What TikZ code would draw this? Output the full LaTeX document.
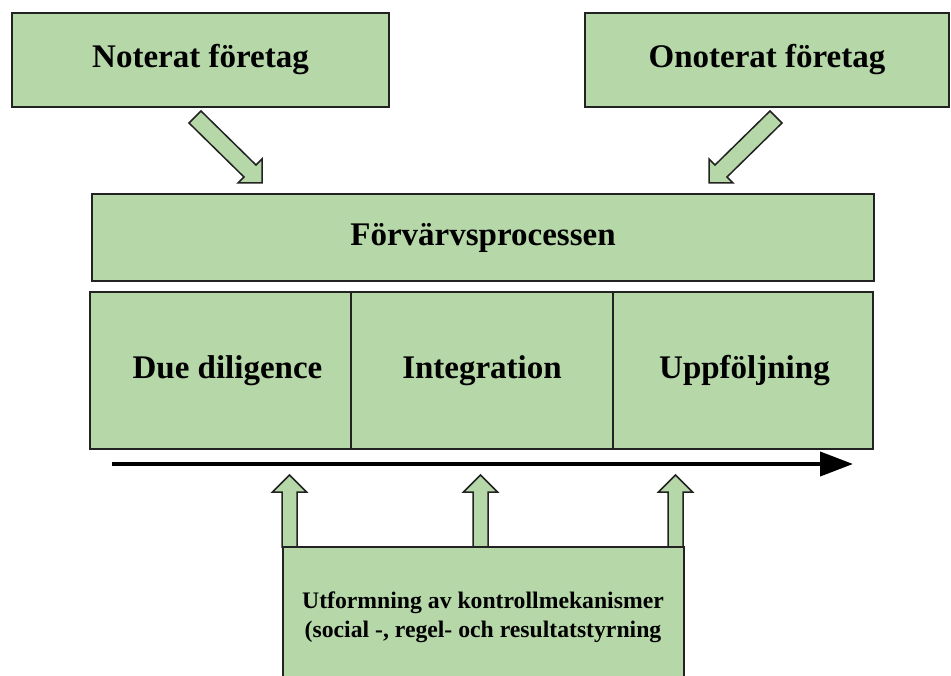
\documentclass[tikz,border=0pt]{standalone}
\usepackage{fontspec}
\setmainfont{Liberation Serif}
\usetikzlibrary{arrows.meta}
\definecolor{boxgreen}{HTML}{B6D7A8}
\definecolor{edge}{HTML}{222222}
\tikzset{
  box/.style={draw=edge, fill=boxgreen, line width=2pt, inner sep=0pt, align=center,
    font=\fontsize{33}{40}\selectfont\bfseries, text=black},
  blockarrow/.style={draw=edge, fill=boxgreen, line width=1.5pt, line join=miter},
  timeline/.style={line width=4pt, -{Triangle[length=33pt,width=24pt]}}
}
\begin{document}
\begin{tikzpicture}[x=1pt,y=-1pt]
\useasboundingbox (0,0) rectangle (951,676);
\clip (0,0) rectangle (951,676);
\fill[white] (0,0) rectangle (951,676);
% top boxes
\node[box, minimum width=377pt, minimum height=94pt] (noterat) at (200.5,60) {Noterat företag};
\node[box, minimum width=364pt, minimum height=94pt] (onoterat) at (767,60) {Onoterat företag};
% process box
\node[box, minimum width=782pt, minimum height=87pt] (process) at (483,237.5) {Förvärvsprocessen};
% phases
\node[box, minimum width=261pt, minimum height=157pt] (dd) at (220.5,370.5) {\hspace*{14pt}Due diligence};
\node[box, minimum width=262pt, minimum height=157pt] (integ) at (482,370.5) {Integration};
\node[box, minimum width=260pt, minimum height=157pt] (upp) at (743,370.5) {\hspace*{3pt}Uppföljning};
% diagonal block arrows
\draw[blockarrow] (189,123) -- (244,177) -- (238,183) -- (262,183) -- (262,159) -- (256,165) -- (201,111) -- cycle;
\draw[blockarrow] (782,123) -- (727,177) -- (733,183) -- (709,183) -- (709,159) -- (715,165) -- (770,111) -- cycle;
% timeline
\coordinate (t0) at (112,464);
\coordinate (t1) at (853,464);
\draw[timeline] (t0) -- (t1);
% up block arrows
\foreach \cx in {289.5,480.5,675.5}{
  \draw[blockarrow] (\cx-7.5,548) -- (\cx-7.5,492) -- (\cx-17,492) -- (\cx,475) -- (\cx+17,492) -- (\cx+7.5,492) -- (\cx+7.5,548);
}
% control box
\node[box, minimum width=401pt, minimum height=140pt, font=\fontsize{23.7}{29}\selectfont\bfseries] (ctrl) at (483,617)
  {Utformning av kontrollmekanismer\\(social -, regel- och resultatstyrning};
\end{tikzpicture}
\end{document}
